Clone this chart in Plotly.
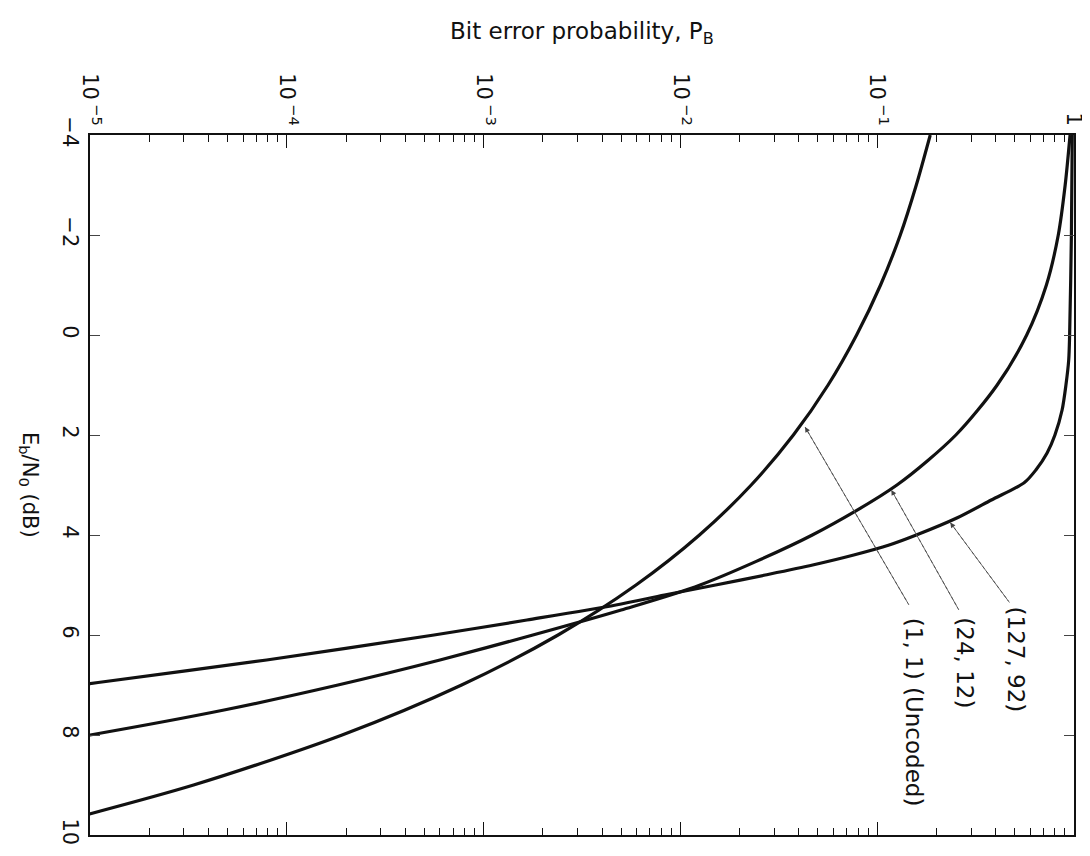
import math
import plotly.graph_objects as go

# ---------------- data ----------------
# Eb/N0 in dB, bit error probability P_B
ebn0_uncoded = [-4, -3, -2, -1, 0, 1, 2, 3, 4, 5, 6, 7, 8, 9, 10]
pb_uncoded = [0.186, 0.158, 0.131, 0.104, 0.0786, 0.0563, 0.0375, 0.0229,
              0.0125, 0.00595, 0.00239, 0.000773, 0.000191, 3.36e-5, 3.9e-6]

ebn0_24_12 = [-4, -3, -2, -1, 0, 1, 2, 3, 4, 5, 5.5, 6, 6.5, 7, 7.5, 8, 8.3]
pb_24_12 = [0.955, 0.902, 0.832, 0.724, 0.575, 0.407, 0.251, 0.126, 0.0468,
            0.0126, 5.0e-3, 1.78e-3, 6.0e-4, 1.82e-4, 4.8e-5, 1.0e-5, 3.5e-6]

ebn0_127_92 = [-4, -2, 0, 0.5, 1.0, 1.5, 2.0, 2.36, 2.7, 2.95, 3.3, 3.65,
               4.0, 4.2, 4.4, 4.6, 4.8, 5.0, 5.2, 5.4, 5.7, 6.0, 6.5, 6.95, 7.2]
pb_127_92 = [0.98, 0.97, 0.95, 0.94, 0.91, 0.87, 0.80, 0.73, 0.64, 0.56,
             0.38, 0.257, 0.158, 0.115, 0.076, 0.047, 0.027, 0.0151,
             8.3e-3, 4.7e-3, 1.66e-3, 5.6e-4, 7.9e-5, 1.1e-5, 4e-6]

curve_labels = ["(127, 92)", "(24, 12)", "(1, 1) (Uncoded)"]
# arrow tip (on curve), tail (near label) and label centre, as (P_B, dB)
arrow_tip = [(0.235, 3.75), (0.118, 3.1), (0.043, 1.84)]
arrow_tail = [(0.47, 5.35), (0.26, 5.5), (0.145, 5.4)]
label_pos = [(0.51, 6.5), (0.28, 6.55), (0.155, 7.55)]

pb_tickvals = [1e-5, 1e-4, 1e-3, 1e-2, 1e-1, 1]
pb_ticktext = ["10\u2009<sup>\u22125</sup>", "10\u2009<sup>\u22124</sup>",
               "10\u2009<sup>\u22123</sup>", "10\u2009<sup>\u22122</sup>",
               "10\u2009<sup>\u22121</sup>", "1"]
db_tickvals = [-4, -2, 0, 2, 4, 6, 8, 10]
db_ticktext = ["\u22124", "\u22122", "0", "2", "4", "6", "8", "10"]

# ---------------- figure ----------------
FONT = "DejaVu Sans, Liberation Sans, Arial, sans-serif"
INK = "#111111"

fig = go.Figure()
for xs, ys in [(pb_uncoded, ebn0_uncoded), (pb_24_12, ebn0_24_12),
               (pb_127_92, ebn0_127_92)]:
    fig.add_trace(go.Scatter(x=xs, y=ys, mode="lines",
                             line=dict(color=INK, width=3.2, shape="spline",
                                       smoothing=0.8),
                             showlegend=False, hoverinfo="skip"))

for (tx, ty), (sx, sy), (lx, ly), lab in zip(arrow_tip, arrow_tail,
                                             label_pos, curve_labels):
    # dotted leader line
    fig.add_trace(go.Scatter(x=[sx, tx], y=[sy, ty], mode="lines",
                             line=dict(color="#666666", width=1, dash="dot"),
                             showlegend=False, hoverinfo="skip"))
    # arrow head
    fig.add_annotation(x=math.log10(tx), y=ty, xref="x", yref="y",
                       ax=math.log10(sx), ay=sy, axref="x", ayref="y",
                       showarrow=True, arrowhead=2, arrowsize=1.3,
                       arrowwidth=0.8, arrowcolor="#444444", text="",
                       standoff=0)
    fig.add_annotation(x=math.log10(lx), y=ly, xref="x", yref="y", text=lab,
                       showarrow=False, textangle=90,
                       font=dict(family=FONT, size=23, color=INK))

minor_vals = [m * 10 ** e for e in range(-5, 0) for m in range(2, 10)]

fig.update_xaxes(type="log", range=[-5, 0], side="top",
                 tickvals=pb_tickvals, ticktext=pb_ticktext, tickangle=90,
                 ticks="inside", ticklen=13, tickwidth=1.3, tickcolor=INK,
                 mirror="ticks", showline=True, linecolor=INK, linewidth=1.8,
                 showgrid=False, zeroline=False,
                 minor=dict(tickvals=minor_vals, ticks="inside", ticklen=7,
                            tickwidth=1.1, tickcolor=INK, showgrid=False),
                 tickfont=dict(family=FONT, size=21, color=INK))
fig.update_yaxes(range=[10, -4], tickvals=db_tickvals, ticktext=db_ticktext,
                 tickangle=90, ticks="inside", ticklen=10, tickwidth=1,
                 tickcolor="#444444", mirror="ticks", showline=True,
                 linecolor=INK, linewidth=1.8, showgrid=False, zeroline=False,
                 tickfont=dict(family=FONT, size=21, color=INK))

fig.add_annotation(x=0.5, y=1.146, xref="paper", yref="paper",
                   text="Bit error probability, P<sub>B</sub>", showarrow=False,
                   xanchor="center", yanchor="middle",
                   font=dict(family=FONT, size=23, color=INK))
fig.add_annotation(x=-0.062, y=0.5, xref="paper", yref="paper",
                   text="E<sub>b</sub>/N<sub>0</sub> (dB)", showarrow=False,
                   textangle=90, xanchor="center", yanchor="middle",
                   font=dict(family=FONT, size=21, color=INK))

fig.update_layout(width=1090, height=856,
                  margin=dict(l=82, r=12, t=127, b=29),
                  paper_bgcolor="white", plot_bgcolor="white")

fig.write_html("out.html")
